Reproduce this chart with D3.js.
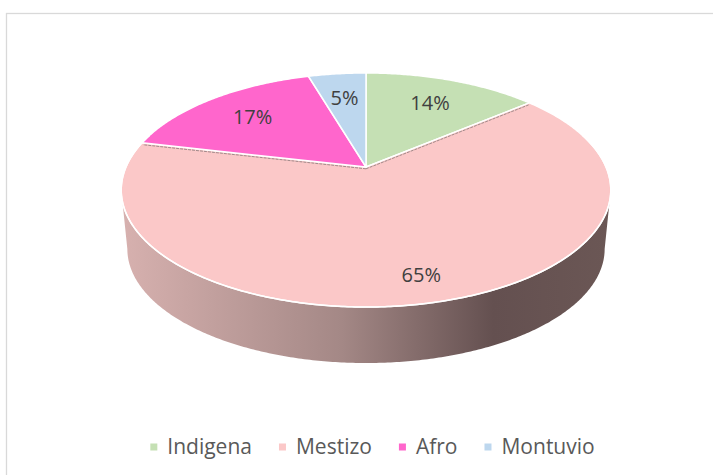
<!DOCTYPE html>
<html>
<head>
<meta charset="utf-8">
<script src="https://cdn.jsdelivr.net/npm/d3@7/dist/d3.min.js"></script>
<style>
  body { margin: 0; background: #fff; }
  svg { display: block; }
</style>
</head>
<body>
<svg id="chart" width="713" height="475"></svg>
<script>
// data
var categories = ["Indigena", "Mestizo", "Afro", "Montuvio"];
var values = [13.9, 64.7, 16.8, 4.6];
var colors = ["#c5e0b4", "#fbc8c8", "#ff66cc", "#bdd7ee"];

var W = 713, H = 475;
var svg = d3.select("#chart");

// frame
svg.append("rect")
   .attr("x", 6.5).attr("y", 13.5)
   .attr("width", 720).attr("height", 480)
   .attr("fill", "none")
   .attr("stroke", "#d9d9d9")
   .attr("stroke-width", 1.3);

// perspective of the tilted disc
var cx = 366, cy = 167;
var A = 240, B = 112.5, k = 0.1966;
var depth = 59.5, shrink = 0.975;

function proj(theta, r, bottom) {
    var u = r * Math.sin(theta), v = r * Math.cos(theta);
    var d = 1 + k * v;
    var s = bottom ? shrink : 1;
    return [cx + s * A * u / d, cy + (bottom ? depth : 0) - s * B * v / d];
}

function arcPts(a0, a1, r, bottom) {
    var n = Math.max(2, Math.ceil(Math.abs(a1 - a0) / 0.01));
    return d3.range(n + 1).map(function(i) {
        return proj(a0 + (a1 - a0) * i / n, r, bottom);
    });
}

var pie = d3.pie().sort(null).value(function(d) { return d; });
var slices = pie(values);
var total = d3.sum(values);
var line = d3.line();

// side wall gradient
var defs = svg.append("defs");
var grad = defs.append("linearGradient")
   .attr("id", "sideGrad")
   .attr("gradientUnits", "userSpaceOnUse")
   .attr("x1", cx - A * 1.02).attr("x2", cx + A * 1.02)
   .attr("y1", 0).attr("y2", 0);
grad.selectAll("stop")
   .data([[0, "#d7b1af"], [0.45, "#a48886"], [0.76, "#645050"], [1, "#6b5755"]])
   .enter().append("stop")
   .attr("offset", function(d) { return d[0]; })
   .attr("stop-color", function(d) { return d[1]; });

// visible side: between the two silhouette tangents
var tA = Math.acos(-k), tB = 2 * Math.PI - Math.acos(-k);
var sidePts = arcPts(tA, tB, 1, false).concat(arcPts(tB, tA, 1, true));
svg.append("path")
   .attr("d", line(sidePts) + "Z")
   .attr("fill", "url(#sideGrad)");

// top faces
svg.append("g").selectAll("path")
   .data(slices)
   .enter().append("path")
   .attr("d", function(d) {
       return line([[cx, cy]].concat(arcPts(d.startAngle, d.endAngle, 1, false))) + "Z";
   })
   .attr("fill", function(d, i) { return colors[i]; })
   .attr("stroke", "#fff")
   .attr("stroke-width", 1.5)
   .attr("stroke-linejoin", "round");

// thin radial faces of the large slice
var big = slices[1];
svg.append("g").selectAll("line")
   .data([big.startAngle, big.endAngle])
   .enter().append("line")
   .attr("x1", cx).attr("y1", cy + 1.8)
   .attr("x2", function(a) { return proj(a, 0.995, false)[0]; })
   .attr("y2", function(a) { return proj(a, 0.995, false)[1] + 1.8; })
   .attr("stroke", "#8c7c7c")
   .attr("stroke-width", 1)
   .attr("stroke-dasharray", "3,1")
   .attr("opacity", 0.8);

// rim highlight
svg.append("path")
   .attr("d", line(arcPts(tA - 0.5, tB + 0.5, 1, false)))
   .attr("fill", "none")
   .attr("stroke", "#fff")
   .attr("stroke-width", 1.5);

// labels
svg.append("g").selectAll("text")
   .data(slices)
   .enter().append("text")
   .attr("transform", function(d) {
       var mid = (d.startAngle + d.endAngle) / 2;
       var r = (d.value / total > 0.5) ? 0.83 : 0.71;
       var p = proj(mid, r, false);
       return "translate(" + p[0] + "," + p[1] + ")";
   })
   .attr("text-anchor", "middle")
   .attr("dy", "0.36em")
   .attr("font-family", "'Open Sans', sans-serif")
   .attr("font-size", "20px")
   .attr("fill", "#404040")
   .text(function(d) { return Math.round(d.value / total * 100) + "%"; });

// legend
var legend = svg.append("g");
var items = legend.selectAll("g")
   .data(categories)
   .enter().append("g");
items.append("rect")
   .attr("width", 7).attr("height", 7)
   .attr("y", -10.5)
   .attr("fill", function(d, i) { return colors[i]; });
items.append("text")
   .attr("x", 17)
   .attr("font-family", "'Open Sans', sans-serif")
   .attr("font-size", "21px")
   .attr("fill", "#595959")
   .text(function(d) { return d; });

var xpos = 0;
items.each(function() {
    var g = d3.select(this);
    g.attr("transform", "translate(" + xpos + ",0)");
    xpos += 17 + g.select("text").node().getComputedTextLength() + 27;
});
var legendW = xpos - 27;
legend.attr("transform", "translate(" + (372.5 - legendW / 2) + ",454)");
</script>
</body>
</html>
